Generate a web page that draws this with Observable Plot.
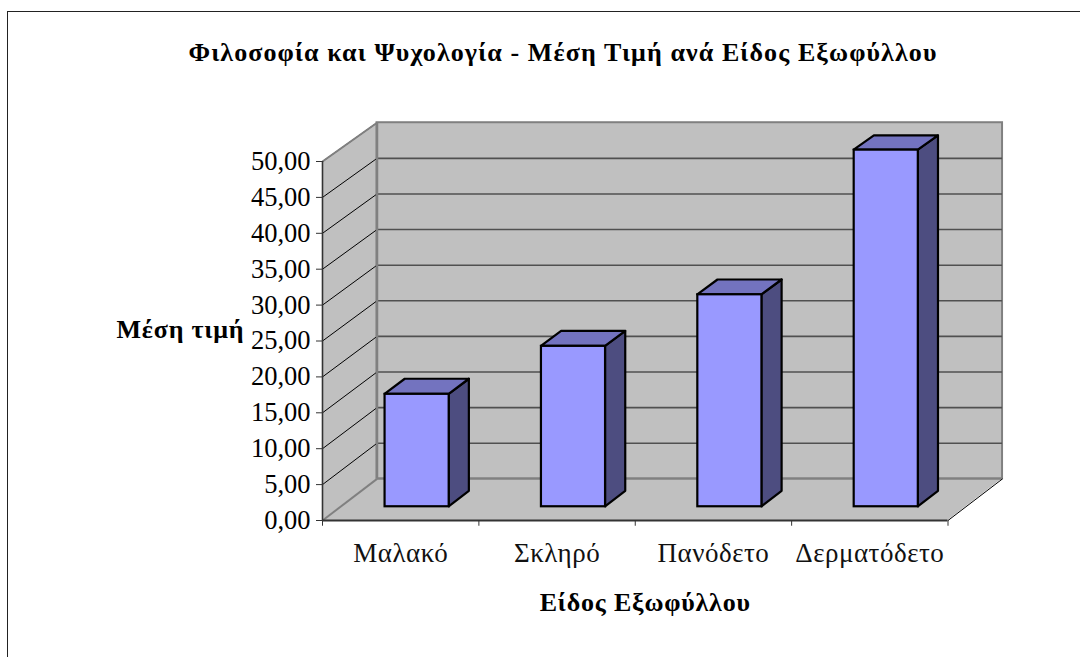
<!DOCTYPE html>
<html><head><meta charset="utf-8">
<script src="https://cdn.jsdelivr.net/npm/d3@7"></script>
<script src="https://cdn.jsdelivr.net/npm/@observablehq/plot@0.6"></script>
<style>
html,body{margin:0;padding:0;background:#fff;overflow:hidden}
#wrap{position:relative;width:1080px;height:657px;font-family:"Liberation Serif",serif;overflow:hidden}
#box{position:absolute;left:7px;top:11px;width:1100px;height:660px;border:1.5px solid #222;box-sizing:border-box}
#title{position:absolute;left:0;top:38px;width:1126px;text-align:center;font:bold 26px "Liberation Serif",serif;letter-spacing:1.1px;color:#000;margin:0}
#wrap svg{position:absolute;left:0;top:0}
#wrap svg g[font-weight="bold"]{letter-spacing:.8px}
#wrap svg g[font-size="27"]{letter-spacing:.5px}
</style></head><body>
<div id="wrap"><div id="box"></div><h1 id="title">Φιλοσοφία και Ψυχολογία - Μέση Τιμή ανά Είδος Εξωφύλλου</h1></div>
<script>
const categories = ["Μαλακό","Σκληρό","Πανόδετο","Δερματόδετο"];
const prices = [15.7,22.4,29.6,49.8];
const yTicks = [0,5,10,15,20,25,30,35,40,45,50];
const yLabel = "Μέση τιμή";
const xLabel = "Είδος Εξωφύλλου";

// oblique projection: depth 1 = back wall, 0 = front plane
const depthX = 0.3488, depthY = 5.8, shrink = 0.008, xMax = categories.length, yMax = 50;
const barWidth = 0.41, barPad = 0.285, barFront = 0.33, barBack = 0.70;
const px = (c, d) => c + d*depthX, py = (v, d) => v*(1 - d*shrink) + d*depthY;

const bars = prices.map((v,i)=>({i, v, name:categories[i], l:i+barPad, r:i+barPad+barWidth}));
const side = bars.flatMap(b=>[barFront,barBack].map(d=>({i:b.i, x:px(b.r,d), y1:py(0,d), y2:py(b.v,d)})));
const topF = bars.flatMap(b=>[barFront,barBack].map(d=>({i:b.i, y:py(b.v,d), x1:px(b.l,d), x2:px(b.r,d)})));
const gridBack = yTicks.slice(1,-1).map(v=>({y:py(v,1)}));
const gridLeft = yTicks.slice(1).map(v=>({x1:0,x2:px(0,1),y1:v,y2:py(v,1)}));

const wall="#c0c0c0", edge="#808080";
const chart = Plot.plot({
  width:1080,height:657,marginLeft:322,marginRight:132.5,marginTop:161,marginBottom:137,
  x:{type:"linear",domain:[0,xMax],axis:null},
  y:{type:"linear",domain:[0,yMax],axis:null},
  style:{background:"transparent",fontFamily:"Liberation Serif, serif",color:"#000"},
  marks:[
    // walls and floor
    Plot.area([0,1],{x1:d=>px(0,d),y1:d=>py(0,d),y2:d=>py(yMax,d),fill:wall}),
    Plot.rect([0],{x1:px(0,1),x2:px(xMax,1),y1:py(0,1),y2:py(yMax,1),fill:wall,stroke:edge,strokeWidth:2}),
    Plot.area([0,1],{y1:d=>py(0,d),x1:d=>px(0,d),x2:d=>px(xMax,d),fill:wall}),
    // gridlines
    Plot.ruleY(gridBack,{y:"y",x1:px(0,1),x2:px(xMax,1),stroke:"#505050",strokeWidth:1.6}),
    Plot.link(gridLeft,{x1:"x1",x2:"x2",y1:"y1",y2:"y2",stroke:"#000",strokeWidth:1}),
    // wall edges
    Plot.ruleX([px(0,1)],{y1:py(0,1),y2:py(yMax,1),stroke:edge,strokeWidth:2.4}),
    Plot.link([0],{x1:0,x2:px(0,1),y1:0,y2:py(0,1),stroke:edge,strokeWidth:2}),
    Plot.link([0],{x1:0,x2:px(0,1),y1:yMax,y2:py(yMax,1),stroke:edge,strokeWidth:2}),
    Plot.ruleY([py(0,1)],{x1:px(0,1),x2:px(xMax,1),stroke:edge,strokeWidth:2}),
    Plot.link([0],{x1:xMax,x2:px(xMax,1),y1:0,y2:py(0,1),stroke:"#000",strokeWidth:1}),
    // bars
    Plot.area(side,{x1:"x",y1:"y1",y2:"y2",z:"i",fill:"#4d4d80",stroke:"#000",strokeWidth:2.2}),
    Plot.area(topF,{y1:"y",x1:"x1",x2:"x2",z:"i",fill:"#7373bf",stroke:"#000",strokeWidth:2.2}),
    Plot.rect(bars,{x1:d=>px(d.l,barFront),x2:d=>px(d.r,barFront),y1:()=>py(0,barFront),y2:d=>py(d.v,barFront),fill:"#9999ff",stroke:"#000",strokeWidth:2.2}),
    // axes
    Plot.ruleX([0],{y1:0,y2:yMax,stroke:"#333",strokeWidth:1.6}),
    Plot.ruleY([0],{x1:0,x2:xMax,stroke:"#333",strokeWidth:2}),
    Plot.axisY({ticks:yTicks,tickSize:6,tickPadding:6,fontSize:26.5,stroke:"#333",tickFormat:d=>d.toFixed(2).replace(".",","),label:null}),
    Plot.ruleX(d3.range(xMax+1),{x:d=>d,y1:0,y2:-0.8,stroke:"#333"}),
    Plot.text(categories,{x:(d,i)=>i+0.5,y:0,dy:33,fontSize:27,fill:"#111"}),
    Plot.text([yLabel],{frameAnchor:"left",dx:-206,dy:-11,fontSize:26,fontWeight:"bold",fill:"#000"}),
    Plot.text([xLabel],{frameAnchor:"bottom",dx:10,dy:90,fontSize:26,fontWeight:"bold",fill:"#000"})
  ]
});
document.getElementById("wrap").appendChild(chart);
</script>
</body></html>
